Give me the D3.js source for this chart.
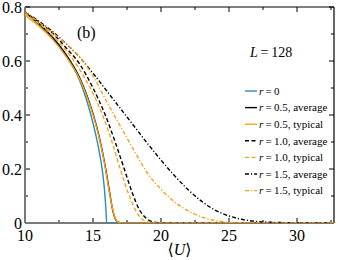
<!DOCTYPE html>
<html lang="en">
  <head>
    <meta charset="UTF-8" />
    <title>Order parameter vs U</title>
    <script src="https://d3js.org/d3.v7.min.js"></script>
    <style>
      body {
        margin: 0;
        background: #fff;
      }
      svg {
        display: block;
      }
      svg text {
        font-family: "Liberation Serif", "Tinos", "DejaVu Serif", serif;
      }
    </style>
  </head>
  <body>
    <script>
      // values: [U, value]
      const r0 = [[10,0.78],[11,0.735],[12,0.685],[13,0.62],[13.5,0.58],[14,0.53],[14.5,0.46],[15,0.37],[15.4,0.28],[15.7,0.19],[15.85,0.12],[15.95,0.05],[16.0,0],[33,0]];
      const r05avg = [[10,0.78],[11,0.74],[12,0.69],[13,0.625],[14,0.54],[14.5,0.48],[15,0.405],[15.5,0.31],[15.9,0.21],[16.2,0.12],[16.4,0.06],[16.6,0.02],[16.8,0.004],[17.2,0],[33,0]];
      const r05typ = [[10,0.77],[11,0.73],[12,0.682],[13,0.618],[14,0.535],[14.5,0.475],[15,0.4],[15.5,0.305],[15.9,0.205],[16.2,0.115],[16.45,0.05],[16.65,0.015],[16.9,0.002],[17.3,0],[33,0]];
      const r10avg = [[10,0.78],[11,0.745],[12,0.705],[13,0.65],[14,0.59],[15,0.5],[15.9,0.4],[16.7,0.29],[17.3,0.2],[17.9,0.11],[18.4,0.05],[18.9,0.018],[19.4,0.004],[20,0],[33,0]];
      const r10typ = [[10,0.775],[11,0.74],[12,0.695],[13,0.64],[14,0.57],[15,0.48],[15.7,0.4],[16.4,0.3],[17,0.2],[17.6,0.11],[18.1,0.05],[18.6,0.015],[19.2,0.002],[19.8,0],[33,0]];
      const r15avg = [[10,0.78],[11,0.748],[12,0.71],[13,0.665],[14,0.615],[15,0.555],[16,0.49],[17,0.425],[18,0.36],[19,0.295],[20,0.233],[21,0.175],[22,0.123],[23,0.08],[24,0.047],[25,0.026],[26,0.013],[27,0.006],[28,0.003],[29.5,0.001],[31,0],[33,0]];
      const r15typ = [[10,0.78],[11,0.745],[12,0.705],[13,0.665],[14,0.615],[15,0.545],[16,0.45],[17,0.36],[18,0.27],[19,0.185],[20,0.125],[21,0.078],[22,0.045],[23,0.022],[24,0.009],[25,0.002],[26,0],[33,0]];

      const seriesLabels = ["0", "0.5, average", "0.5, typical", "1.0, average", "1.0, typical", "1.5, average", "1.5, typical"];
      const xTicks = [10, 15, 20, 25, 30];
      const yTicks = [0, 0.2, 0.4, 0.6, 0.8];

      const teal = "#2a8fb3";
      const orange = "#f7a21b";
      const series = [
        { data: r0, color: teal, dash: null },
        { data: r05avg, color: "#000", dash: null },
        { data: r05typ, color: orange, dash: null },
        { data: r10avg, color: "#000", dash: "4,2.5" },
        { data: r10typ, color: orange, dash: "4,2.5" },
        { data: r15avg, color: "#000", dash: "4,2,1.2,2" },
        { data: r15typ, color: orange, dash: "4,2,1.2,2" },
      ];

      const W = 338, H = 260;
      const margin = { top: 7, right: 4, bottom: 37, left: 25 };
      const width = W - margin.left - margin.right;
      const height = H - margin.top - margin.bottom;

      const svg = d3.select("body").append("svg").attr("width", W).attr("height", H);
      const g = svg.append("g").attr("transform", `translate(${margin.left},${margin.top})`);

      const x = d3.scaleLinear().domain([10, 10 + width / 13.6]).range([0, width]);
      const y = d3.scaleLinear().domain([0, 0.8]).range([height, 0]);

      g.append("clipPath").attr("id", "clip").append("rect").attr("width", width).attr("height", height);

      // frame: left / bottom grey, top / right black
      g.append("line").attr("x1", 0).attr("x2", width).attr("y1", 0).attr("y2", 0).attr("stroke", "#000").attr("stroke-width", 1.2);
      g.append("line").attr("x1", width).attr("x2", width).attr("y1", 0).attr("y2", height).attr("stroke", "#000").attr("stroke-width", 1.2);

      // ticks, inward on every side
      const xMinor = d3.range(10, 33, 2.5);
      const yMinor = d3.range(0, 0.81, 0.1);
      const tickG = g.append("g").attr("stroke", "#000").attr("stroke-width", 1);
      xMinor.forEach((v) => {
        const len = xTicks.includes(v) ? 5 : 3;
        tickG.append("line").attr("x1", x(v)).attr("x2", x(v)).attr("y1", height).attr("y2", height - len);
        tickG.append("line").attr("x1", x(v)).attr("x2", x(v)).attr("y1", 0).attr("y2", len);
      });
      yMinor.forEach((v, i) => {
        const len = i % 2 === 0 ? 5 : 3;
        tickG.append("line").attr("y1", y(v)).attr("y2", y(v)).attr("x1", 0).attr("x2", len);
        tickG.append("line").attr("y1", y(v)).attr("y2", y(v)).attr("x1", width).attr("x2", width - len);
      });

      // grey left and bottom axis lines
      g.append("line").attr("x1", 0).attr("x2", width).attr("y1", height).attr("y2", height).attr("stroke", "#7a7a7a").attr("stroke-width", 2);
      g.append("line").attr("x1", 0).attr("x2", 0).attr("y1", 0).attr("y2", height).attr("stroke", "#7a7a7a").attr("stroke-width", 2);

      // tick labels
      g.selectAll(".xl")
        .data(xTicks)
        .enter()
        .append("text")
        .attr("x", (d) => x(d))
        .attr("y", height + 18)
        .attr("text-anchor", "middle")
        .style("font-size", "16px")
        .text((d) => d);
      g.selectAll(".yl")
        .data(yTicks)
        .enter()
        .append("text")
        .attr("x", -3)
        .attr("y", (d) => y(d))
        .attr("dy", "0.35em")
        .attr("text-anchor", "end")
        .style("font-size", "16px")
        .text((d) => d);

      // curves
      const line = d3
        .line()
        .x((d) => x(d[0]))
        .y((d) => y(d[1]))
        .curve(d3.curveMonotoneX);
      const curves = g.append("g").attr("clip-path", "url(#clip)");
      series.forEach((s) => {
        curves
          .append("path")
          .datum(s.data)
          .attr("fill", "none")
          .attr("stroke", s.color)
          .attr("stroke-width", 1.4)
          .attr("stroke-dasharray", s.dash)
          .attr("d", line);
      });

      // legend
      const legend = g.append("g").attr("transform", `translate(${220},${84})`);
      series.forEach((s, i) => {
        const row = legend.append("g").attr("transform", `translate(0,${i * 16.6})`);
        row.append("line").attr("x1", 0).attr("x2", 12).attr("y1", 0).attr("y2", 0).attr("stroke", s.color).attr("stroke-width", 1.4).attr("stroke-dasharray", s.dash);
        const t = row.append("text").attr("x", 14).attr("y", 0).attr("dy", "0.35em").style("font-size", "11px");
        t.append("tspan").style("font-style", "italic").text("r");
        t.append("tspan").text("\u2009=\u2009" + seriesLabels[i]);
      });

      // annotations
      g.append("text").attr("x", 52).attr("y", 31).style("font-size", "16px").text("(b)");
      const lt = g.append("text").attr("x", 225).attr("y", 50).style("font-size", "14px");
      lt.append("tspan").style("font-style", "italic").text("L");
      lt.append("tspan").text("\u2009=\u2009128");

      const xl = svg.append("text").attr("x", margin.left + width / 2).attr("y", H - 5).attr("text-anchor", "middle").style("font-size", "16px");
      xl.append("tspan").text("\u27E8");
      xl.append("tspan").style("font-style", "italic").text("U");
      xl.append("tspan").text("\u27E9");
    </script>
  </body>
</html>
